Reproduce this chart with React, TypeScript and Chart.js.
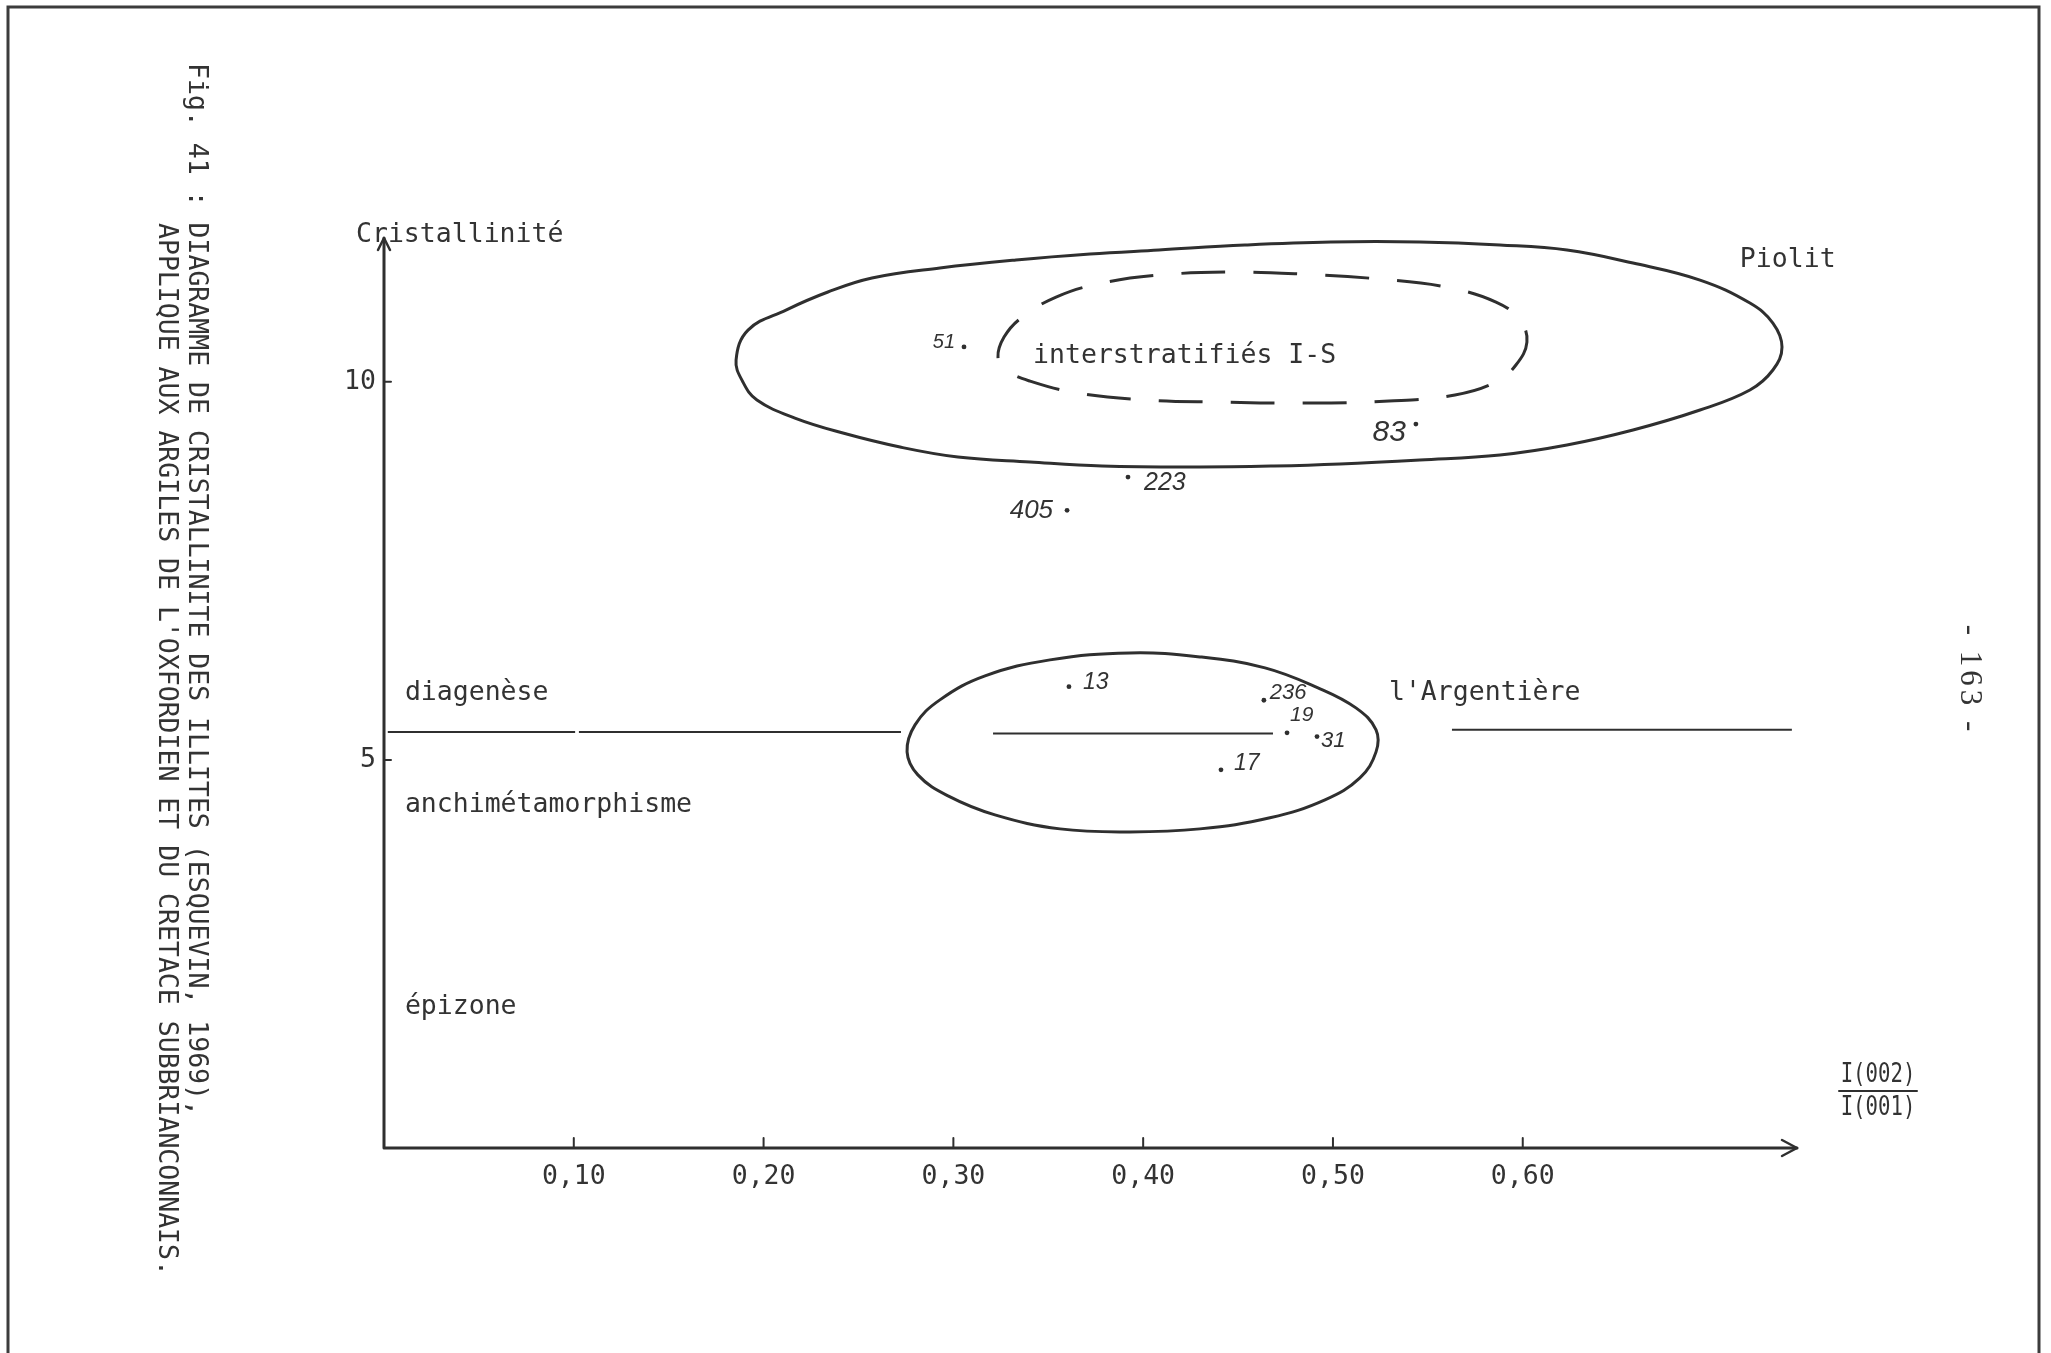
import React, { useEffect, useRef } from "react";
import { Chart, registerables } from "chart.js";

Chart.register(...registerables);

// ---------- axis values ----------
const X_MIN = 0;
const X_MAX = 0.7445;
const Y_MIN = -0.128;
const Y_MAX = 11.9;
const X_TICKS = [0.1, 0.2, 0.3, 0.4, 0.5, 0.6];
const X_TICK_LABELS = ["0,10", "0,20", "0,30", "0,40", "0,50", "0,60"];
const Y_TICKS = [5, 10];
const Y_TICK_LABELS = ["5", "10"];

// ---------- Piolit envelope (solid outline) ----------
const PIOLIT_X = [0.1855, 0.1918, 0.2118, 0.2339, 0.2571, 0.2929, 0.333, 0.372, 0.4083, 0.4536, 0.4989, 0.5458, 0.588, 0.6233, 0.6581, 0.6934, 0.7197, 0.7318, 0.7366, 0.7318, 0.7197, 0.6934, 0.6581, 0.6233, 0.588, 0.5458, 0.5037, 0.4689, 0.4299, 0.3783, 0.3404, 0.3024, 0.2719, 0.2418, 0.2165, 0.1965, 0.1891];
const PIOLIT_Y = [10.287, 10.683, 10.948, 11.186, 11.371, 11.503, 11.609, 11.688, 11.741, 11.807, 11.847, 11.847, 11.807, 11.741, 11.569, 11.344, 11.04, 10.776, 10.459, 10.155, 9.891, 9.626, 9.362, 9.164, 9.032, 8.966, 8.913, 8.886, 8.873, 8.886, 8.939, 9.005, 9.137, 9.322, 9.52, 9.759, 9.997];

// ---------- interstratifiés I-S (dashed outline) ----------
const IS_X = [0.3235, 0.3267, 0.3356, 0.3541, 0.3783, 0.4083, 0.4457, 0.4842, 0.5248, 0.5595, 0.5859, 0.5985, 0.6022, 0.5964, 0.5859, 0.5643, 0.5295, 0.4842, 0.4389, 0.4025, 0.3656, 0.3404, 0.3277];
const IS_Y = [10.326, 10.59, 10.841, 11.119, 11.304, 11.41, 11.45, 11.423, 11.357, 11.252, 11.054, 10.815, 10.525, 10.221, 9.996, 9.824, 9.745, 9.718, 9.731, 9.757, 9.85, 10.008, 10.154];

// ---------- l'Argentière envelope ----------
const ARG_X = [0.2756, 0.2798, 0.2929, 0.3167, 0.3509, 0.393, 0.4299, 0.4642, 0.4921, 0.5121, 0.5227, 0.5227, 0.5142, 0.4958, 0.4668, 0.4299, 0.393, 0.3562, 0.3219, 0.2972, 0.2813];
const ARG_Y = [5.108, 5.465, 5.795, 6.112, 6.324, 6.416, 6.363, 6.218, 5.954, 5.689, 5.399, 5.108, 4.764, 4.474, 4.236, 4.09, 4.05, 4.09, 4.275, 4.526, 4.804];

// ---------- diagenèse / anchizone boundary (segments) ----------
const BOUNDARY_START = [0.002, 0.1027, 0.3209, 0.5627];
const BOUNDARY_END = [0.1007, 0.2724, 0.4684, 0.7418];
const BOUNDARY_Y = [5.37, 5.37, 5.35, 5.4];

// ---------- samples ----------
const SAMPLE_NAMES = ["51", "83", "223", "405", "13", "236", "19", "31", "17"];
const SAMPLE_X = [0.3056, 0.5437, 0.392, 0.3599, 0.3609, 0.4636, 0.4758, 0.4916, 0.441];
const SAMPLE_Y = [10.46, 9.44, 8.74, 8.3, 5.97, 5.79, 5.36, 5.31, 4.87];

// ---------- zone and group names ----------
const ZONE_NAMES = ["diagenèse", "anchimétamorphisme", "épizone"];
const ZONE_X = [0.011, 0.011, 0.011];
const ZONE_Y = [5.79, 4.31, 1.64];
const GROUP_NAMES = ["interstratifiés I-S", "Piolit", "l'Argentière"];
const GROUP_X = [0.342, 0.7144, 0.5295];
const GROUP_Y = [10.25, 11.52, 5.79];

const Y_TITLE = "Cristallinité";
const X_TITLE_NUM = "I(002)";
const X_TITLE_DEN = "I(001)";
const CAPTION_1 = "Fig. 41 : DIAGRAMME DE CRISTALLINITE DES ILLITES (ESQUEVIN, 1969),";
const CAPTION_2 = "APPLIQUE AUX ARGILES DE L'OXFORDIEN ET DU CRETACE SUBBRIANCONNAIS.";
const PAGE_NO = "- 163 -";

// ---------- styles (kept apart from the data) ----------
const INK = "#2f2f2f";
const TEXT = "#333333";
const MONO = '"DejaVu Sans Mono", monospace';
const HAND = '"Liberation Sans", sans-serif';
const MONO_SIZE = 26.5;
const SAMPLE_LABEL_STYLE: Record<string, { align: CanvasTextAlign; dx: number; dy: number; size: number }> = {
  "51": { align: "right", dx: -9, dy: -5, size: 20 },
  "83": { align: "right", dx: -10, dy: 9, size: 30 },
  "223": { align: "left", dx: 16, dy: 6, size: 25 },
  "405": { align: "right", dx: -14, dy: 0, size: 26 },
  "13": { align: "left", dx: 14, dy: -4, size: 23 },
  "236": { align: "left", dx: 6, dy: -7, size: 22 },
  "19": { align: "left", dx: 3, dy: -18, size: 21 },
  "31": { align: "left", dx: 4, dy: 4, size: 22 },
  "17": { align: "left", dx: 13, dy: -6, size: 23 },
};

function outline(xs: number[], ys: number[]) {
  return xs.map((x, i) => ({ x, y: ys[i] }));
}

// Closes the outline datasets smoothly (same loop behaviour Chart.js uses for radar lines)
const closeOutlinePlugin = {
  id: "closeOutline",
  afterDatasetsUpdate(chart: any) {
    chart.data.datasets.forEach((ds: any, i: number) => {
      if (!ds.closedOutline) return;
      const line = chart.getDatasetMeta(i).dataset;
      if (!line) return;
      line._loop = true;
      line._fullLoop = true;
      line._segments = undefined;
      line._path = undefined;
      line._pointsUpdated = false;
    });
  },
};

const decorPlugin = {
  id: "decor",
  beforeDraw(chart: any) {
    const { ctx, width, height } = chart;
    ctx.save();
    ctx.fillStyle = "#ffffff";
    ctx.fillRect(0, 0, width, height);
    ctx.restore();
  },
  afterDraw(chart: any) {
    const { ctx, chartArea: a } = chart;
    const xs = chart.scales.x;
    const ys = chart.scales.y;
    ctx.save();

    // page frame (scanned sheet edge)
    ctx.strokeStyle = "#3c3c3c";
    ctx.lineWidth = 3;
    ctx.beginPath();
    ctx.moveTo(8, chart.height);
    ctx.lineTo(8, 7);
    ctx.lineTo(2039, 7);
    ctx.lineTo(2039, chart.height);
    ctx.stroke();

    // axes
    ctx.strokeStyle = INK;
    ctx.lineWidth = 3;
    ctx.lineCap = "round";
    ctx.lineJoin = "round";
    ctx.beginPath();
    ctx.moveTo(a.left, a.bottom);
    ctx.lineTo(a.right, a.bottom);
    ctx.moveTo(a.left, a.bottom);
    ctx.lineTo(a.left, a.top);
    ctx.stroke();

    // arrow heads
    ctx.lineWidth = 2.5;
    ctx.beginPath();
    ctx.moveTo(a.right - 15, a.bottom - 8);
    ctx.lineTo(a.right, a.bottom);
    ctx.lineTo(a.right - 15, a.bottom + 8);
    ctx.moveTo(a.left - 6, a.top + 12);
    ctx.lineTo(a.left, a.top);
    ctx.lineTo(a.left + 6, a.top + 12);
    ctx.stroke();

    // tick marks
    ctx.lineWidth = 2;
    ctx.beginPath();
    X_TICKS.forEach((v) => {
      const px = xs.getPixelForValue(v);
      ctx.moveTo(px, a.bottom);
      ctx.lineTo(px, a.bottom - 10);
    });
    Y_TICKS.forEach((v) => {
      const py = ys.getPixelForValue(v);
      ctx.moveTo(a.left, py);
      ctx.lineTo(a.left + 7, py);
    });
    ctx.stroke();

    // typed text
    ctx.fillStyle = TEXT;
    ctx.font = `${MONO_SIZE}px ${MONO}`;
    ctx.textAlign = "left";
    ctx.textBaseline = "alphabetic";
    ctx.fillText(Y_TITLE, a.left - 28, a.top + 4);
    ZONE_NAMES.forEach((t, i) => {
      ctx.fillText(t, xs.getPixelForValue(ZONE_X[i]), ys.getPixelForValue(ZONE_Y[i]));
    });
    GROUP_NAMES.forEach((t, i) => {
      ctx.fillText(t, xs.getPixelForValue(GROUP_X[i]), ys.getPixelForValue(GROUP_Y[i]));
    });

    // x-axis title as a fraction (narrow typing)
    const cx = a.right + 81;
    const ly = a.bottom - 57;
    ctx.save();
    ctx.translate(cx, ly);
    ctx.scale(0.78, 1);
    ctx.textAlign = "center";
    ctx.fillText(X_TITLE_NUM, 0, -9);
    ctx.fillText(X_TITLE_DEN, 0, 24);
    ctx.restore();
    ctx.lineWidth = 2;
    ctx.beginPath();
    ctx.moveTo(cx - 39, ly);
    ctx.lineTo(cx + 39, ly);
    ctx.stroke();

    // sample numbers (handwritten)
    SAMPLE_NAMES.forEach((name, i) => {
      const st = SAMPLE_LABEL_STYLE[name];
      const px = xs.getPixelForValue(SAMPLE_X[i]);
      const py = ys.getPixelForValue(SAMPLE_Y[i]);
      ctx.font = `italic ${st.size}px ${HAND}`;
      ctx.textAlign = st.align;
      ctx.textBaseline = "middle";
      ctx.fillText(name, px + st.dx, py + st.dy);
    });

    // rotated caption
    ctx.font = `${MONO_SIZE}px ${MONO}`;
    ctx.textAlign = "left";
    ctx.textBaseline = "middle";
    ctx.save();
    ctx.translate(196, 63);
    ctx.rotate(Math.PI / 2);
    ctx.fillText(CAPTION_1, 0, 0);
    ctx.restore();
    ctx.save();
    ctx.translate(166, 223);
    ctx.rotate(Math.PI / 2);
    ctx.fillText(CAPTION_2, 0, 0);
    ctx.restore();

    // page number
    ctx.save();
    ctx.font = '31px "Liberation Serif", serif';
    ctx.textAlign = "center";
    ctx.textBaseline = "middle";
    (ctx as any).letterSpacing = "4px";
    ctx.translate(1969, 680);
    ctx.rotate(Math.PI / 2);
    ctx.fillText(PAGE_NO, 0, 0);
    ctx.restore();

    ctx.restore();
  },
};

export default function App() {
  const ref = useRef<HTMLCanvasElement>(null);

  useEffect(() => {
    document.body.style.margin = "0";
    document.body.style.overflow = "hidden";
    const canvas = ref.current;
    if (!canvas) return;

    const outlineStyle = {
      type: "line" as const,
      showLine: true,
      closedOutline: true,
      pointRadius: 0,
      borderColor: INK,
      borderWidth: 3,
      tension: 0.4,
      fill: false,
      clip: false as any,
    };

    const boundarySets = BOUNDARY_START.map((x0, i) => ({
      type: "line" as const,
      data: [
        { x: x0, y: BOUNDARY_Y[i] },
        { x: BOUNDARY_END[i], y: BOUNDARY_Y[i] },
      ],
      showLine: true,
      pointRadius: 0,
      borderColor: INK,
      borderWidth: 2,
      tension: 0,
      fill: false,
      clip: false as any,
    }));

    const chart = new Chart(canvas, {
      type: "scatter",
      data: {
        datasets: [
          { ...outlineStyle, label: "Piolit", data: outline(PIOLIT_X, PIOLIT_Y) },
          { ...outlineStyle, label: "interstratifiés I-S", data: outline(IS_X, IS_Y), borderDash: [44, 28] },
          { ...outlineStyle, label: "l'Argentière", data: outline(ARG_X, ARG_Y) },
          ...boundarySets,
          {
            type: "scatter" as const,
            label: "échantillons",
            data: SAMPLE_X.map((x, i) => ({ x, y: SAMPLE_Y[i] })),
            pointRadius: 2.4,
            pointBackgroundColor: INK,
            pointBorderWidth: 0,
            clip: false as any,
          },
        ] as any,
      },
      options: {
        responsive: false,
        animation: false,
        events: [],
        layout: { padding: { left: 0, top: 238, right: 254, bottom: 0 } },
        plugins: { legend: { display: false }, tooltip: { enabled: false } },
        scales: {
          x: {
            type: "linear",
            min: X_MIN,
            max: X_MAX,
            grid: { display: false, drawTicks: false },
            border: { display: false },
            afterBuildTicks: (s: any) => {
              s.ticks = X_TICKS.map((v) => ({ value: v }));
            },
            afterFit: (s: any) => {
              s.height = 205;
            },
            ticks: {
              autoSkip: false,
              maxRotation: 0,
              padding: 13,
              color: TEXT,
              font: { family: MONO, size: MONO_SIZE },
              callback: (_v: any, i: number) => X_TICK_LABELS[i],
            },
          },
          y: {
            type: "linear",
            min: Y_MIN,
            max: Y_MAX,
            grid: { display: false, drawTicks: false },
            border: { display: false },
            afterBuildTicks: (s: any) => {
              s.ticks = Y_TICKS.map((v) => ({ value: v }));
            },
            afterFit: (s: any) => {
              s.width = 384;
            },
            ticks: {
              autoSkip: false,
              padding: 8,
              color: TEXT,
              font: { family: MONO, size: MONO_SIZE },
              callback: (_v: any, i: number) => Y_TICK_LABELS[i],
            },
          },
        },
      } as any,
      plugins: [closeOutlinePlugin, decorPlugin],
    });

    return () => chart.destroy();
  }, []);

  return (
    <canvas
      ref={ref}
      width={2051}
      height={1353}
      style={{ display: "block", width: "2051px", height: "1353px" }}
    />
  );
}
